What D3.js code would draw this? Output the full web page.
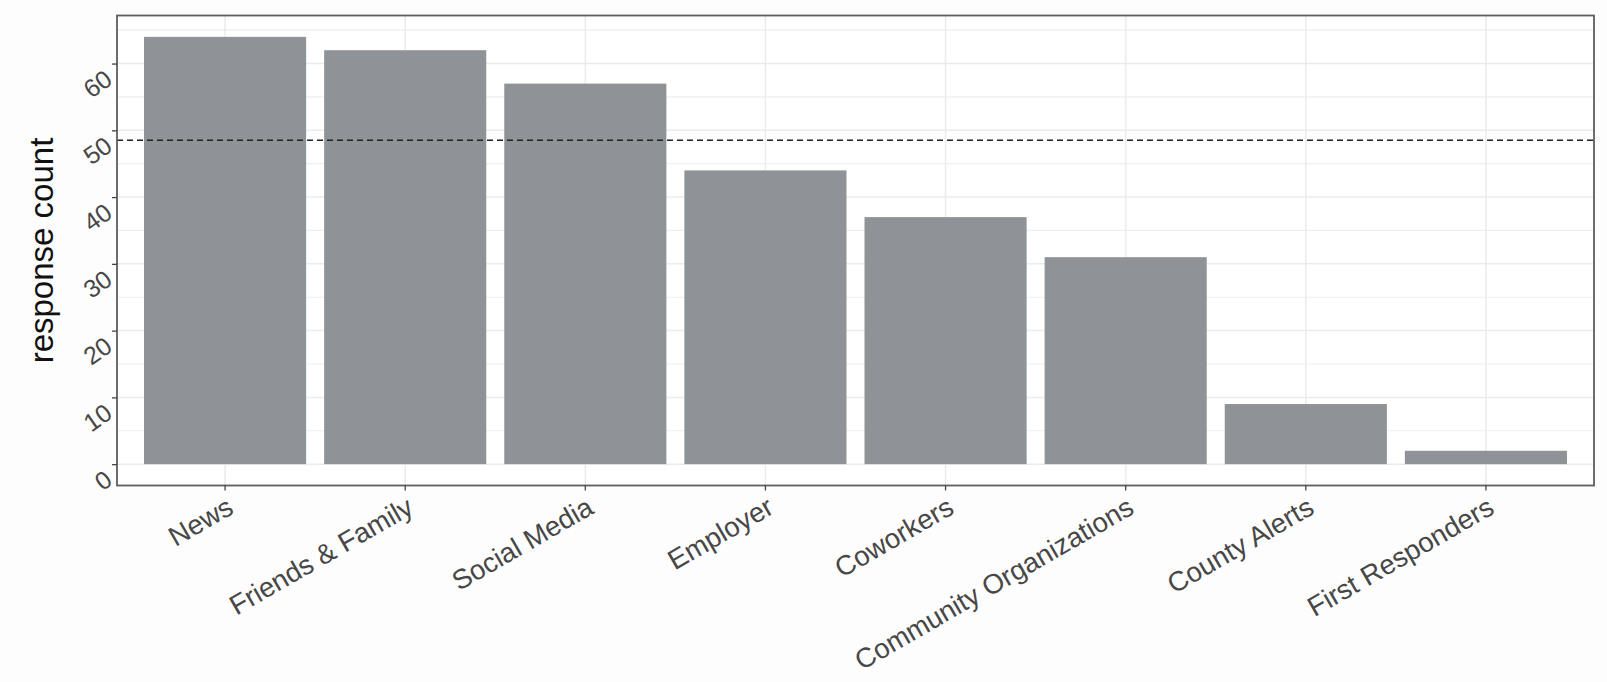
<!DOCTYPE html>
<html>
<head>
<meta charset="utf-8">
<script src="https://cdn.jsdelivr.net/npm/d3@7"></script>
<style>
  html, body { margin: 0; padding: 0; background: #fdfdfd; }
  svg { display: block; font-family: "Liberation Sans", Arial, sans-serif; }
</style>
</head>
<body>
<svg id="chart" width="1607" height="682"></svg>
<script>
const categories = ["News", "Friends & Family", "Social Media", "Employer", "Coworkers", "Community Organizations", "County Alerts", "First Responders"];
const counts = [64, 62, 57, 44, 37, 31, 9, 2];
const referenceLine = 48.5;
const yTicks = [0, 10, 20, 30, 40, 50, 60];
const yMinorTicks = [5, 15, 25, 35, 45, 55, 65];
const yTitle = "response count";

const W = 1607, H = 682;
const panel = { left: 117, right: 1594, top: 15.5, bottom: 485.5 };

const svg = d3.select("#chart");
svg.append("rect").attr("width", W).attr("height", H).attr("fill", "#fdfdfd");

const x = d3.scaleBand()
  .domain(categories)
  .range([panel.left, panel.right])
  .paddingInner(0.1)
  .paddingOuter(0.15);

const maxV = d3.max(counts);
const y = d3.scaleLinear()
  .domain([-0.05 * maxV, maxV * 1.05])
  .range([panel.bottom, panel.top]);

// panel background
svg.append("rect")
  .attr("x", panel.left).attr("y", panel.top)
  .attr("width", panel.right - panel.left).attr("height", panel.bottom - panel.top)
  .attr("fill", "#ffffff");

// grid
const grid = svg.append("g");
grid.selectAll("line.minor").data(yMinorTicks).join("line")
  .attr("x1", panel.left).attr("x2", panel.right)
  .attr("y1", d => y(d)).attr("y2", d => y(d))
  .attr("stroke", "#eeeeee").attr("stroke-width", 1.2);
grid.selectAll("line.major").data(yTicks).join("line")
  .attr("x1", panel.left).attr("x2", panel.right)
  .attr("y1", d => y(d)).attr("y2", d => y(d))
  .attr("stroke", "#ebebeb").attr("stroke-width", 1.5);
grid.selectAll("line.vert").data(categories).join("line")
  .attr("x1", d => x(d) + x.bandwidth() / 2).attr("x2", d => x(d) + x.bandwidth() / 2)
  .attr("y1", panel.top).attr("y2", panel.bottom)
  .attr("stroke", "#ebebeb").attr("stroke-width", 1.5);

// bars
svg.append("g").selectAll("rect").data(categories).join("rect")
  .attr("x", d => x(d))
  .attr("width", x.bandwidth())
  .attr("y", (d, i) => y(counts[i]))
  .attr("height", (d, i) => y(0) - y(counts[i]))
  .attr("fill", "#8f9296");

// reference dashed line
svg.append("line")
  .attr("x1", panel.left).attr("x2", panel.right)
  .attr("y1", y(referenceLine)).attr("y2", y(referenceLine))
  .attr("stroke", "#222").attr("stroke-width", 1.5)
  .attr("stroke-dasharray", "6,4");

// panel border
svg.append("rect")
  .attr("x", panel.left).attr("y", panel.top)
  .attr("width", panel.right - panel.left).attr("height", panel.bottom - panel.top)
  .attr("fill", "none").attr("stroke", "#5e5e5e").attr("stroke-width", 1.8);

// x axis
const xAxis = svg.append("g")
  .attr("transform", `translate(0,${panel.bottom})`)
  .call(d3.axisBottom(x).tickSize(5).tickSizeOuter(0));
xAxis.select(".domain").remove();
xAxis.selectAll(".tick line").attr("stroke", "#444").attr("stroke-width", 1.3);
xAxis.selectAll(".tick text")
  .attr("fill", "#474747")
  .attr("font-size", 27.5)
  .attr("text-anchor", "end")
  .attr("dy", null)
  .attr("y", 0)
  .attr("transform", "translate(10,27) rotate(-30)");

// y axis
const yAxis = svg.append("g")
  .attr("transform", `translate(${panel.left},0)`)
  .call(d3.axisLeft(y).tickValues(yTicks).tickSize(5).tickSizeOuter(0));
yAxis.select(".domain").remove();
yAxis.selectAll(".tick line").attr("stroke", "#444").attr("stroke-width", 1.3);
yAxis.selectAll(".tick text")
  .attr("fill", "#474747")
  .attr("font-size", 25)
  .attr("text-anchor", "end")
  .attr("dy", null)
  .attr("x", 0)
  .attr("transform", "translate(-3,19) rotate(-35)");

// y title
svg.append("text")
  .attr("transform", `translate(53,${(panel.top + panel.bottom) / 2}) rotate(-90)`)
  .attr("text-anchor", "middle")
  .attr("font-size", 33)
  .attr("fill", "#111")
  .text(yTitle);
</script>
</body>
</html>
